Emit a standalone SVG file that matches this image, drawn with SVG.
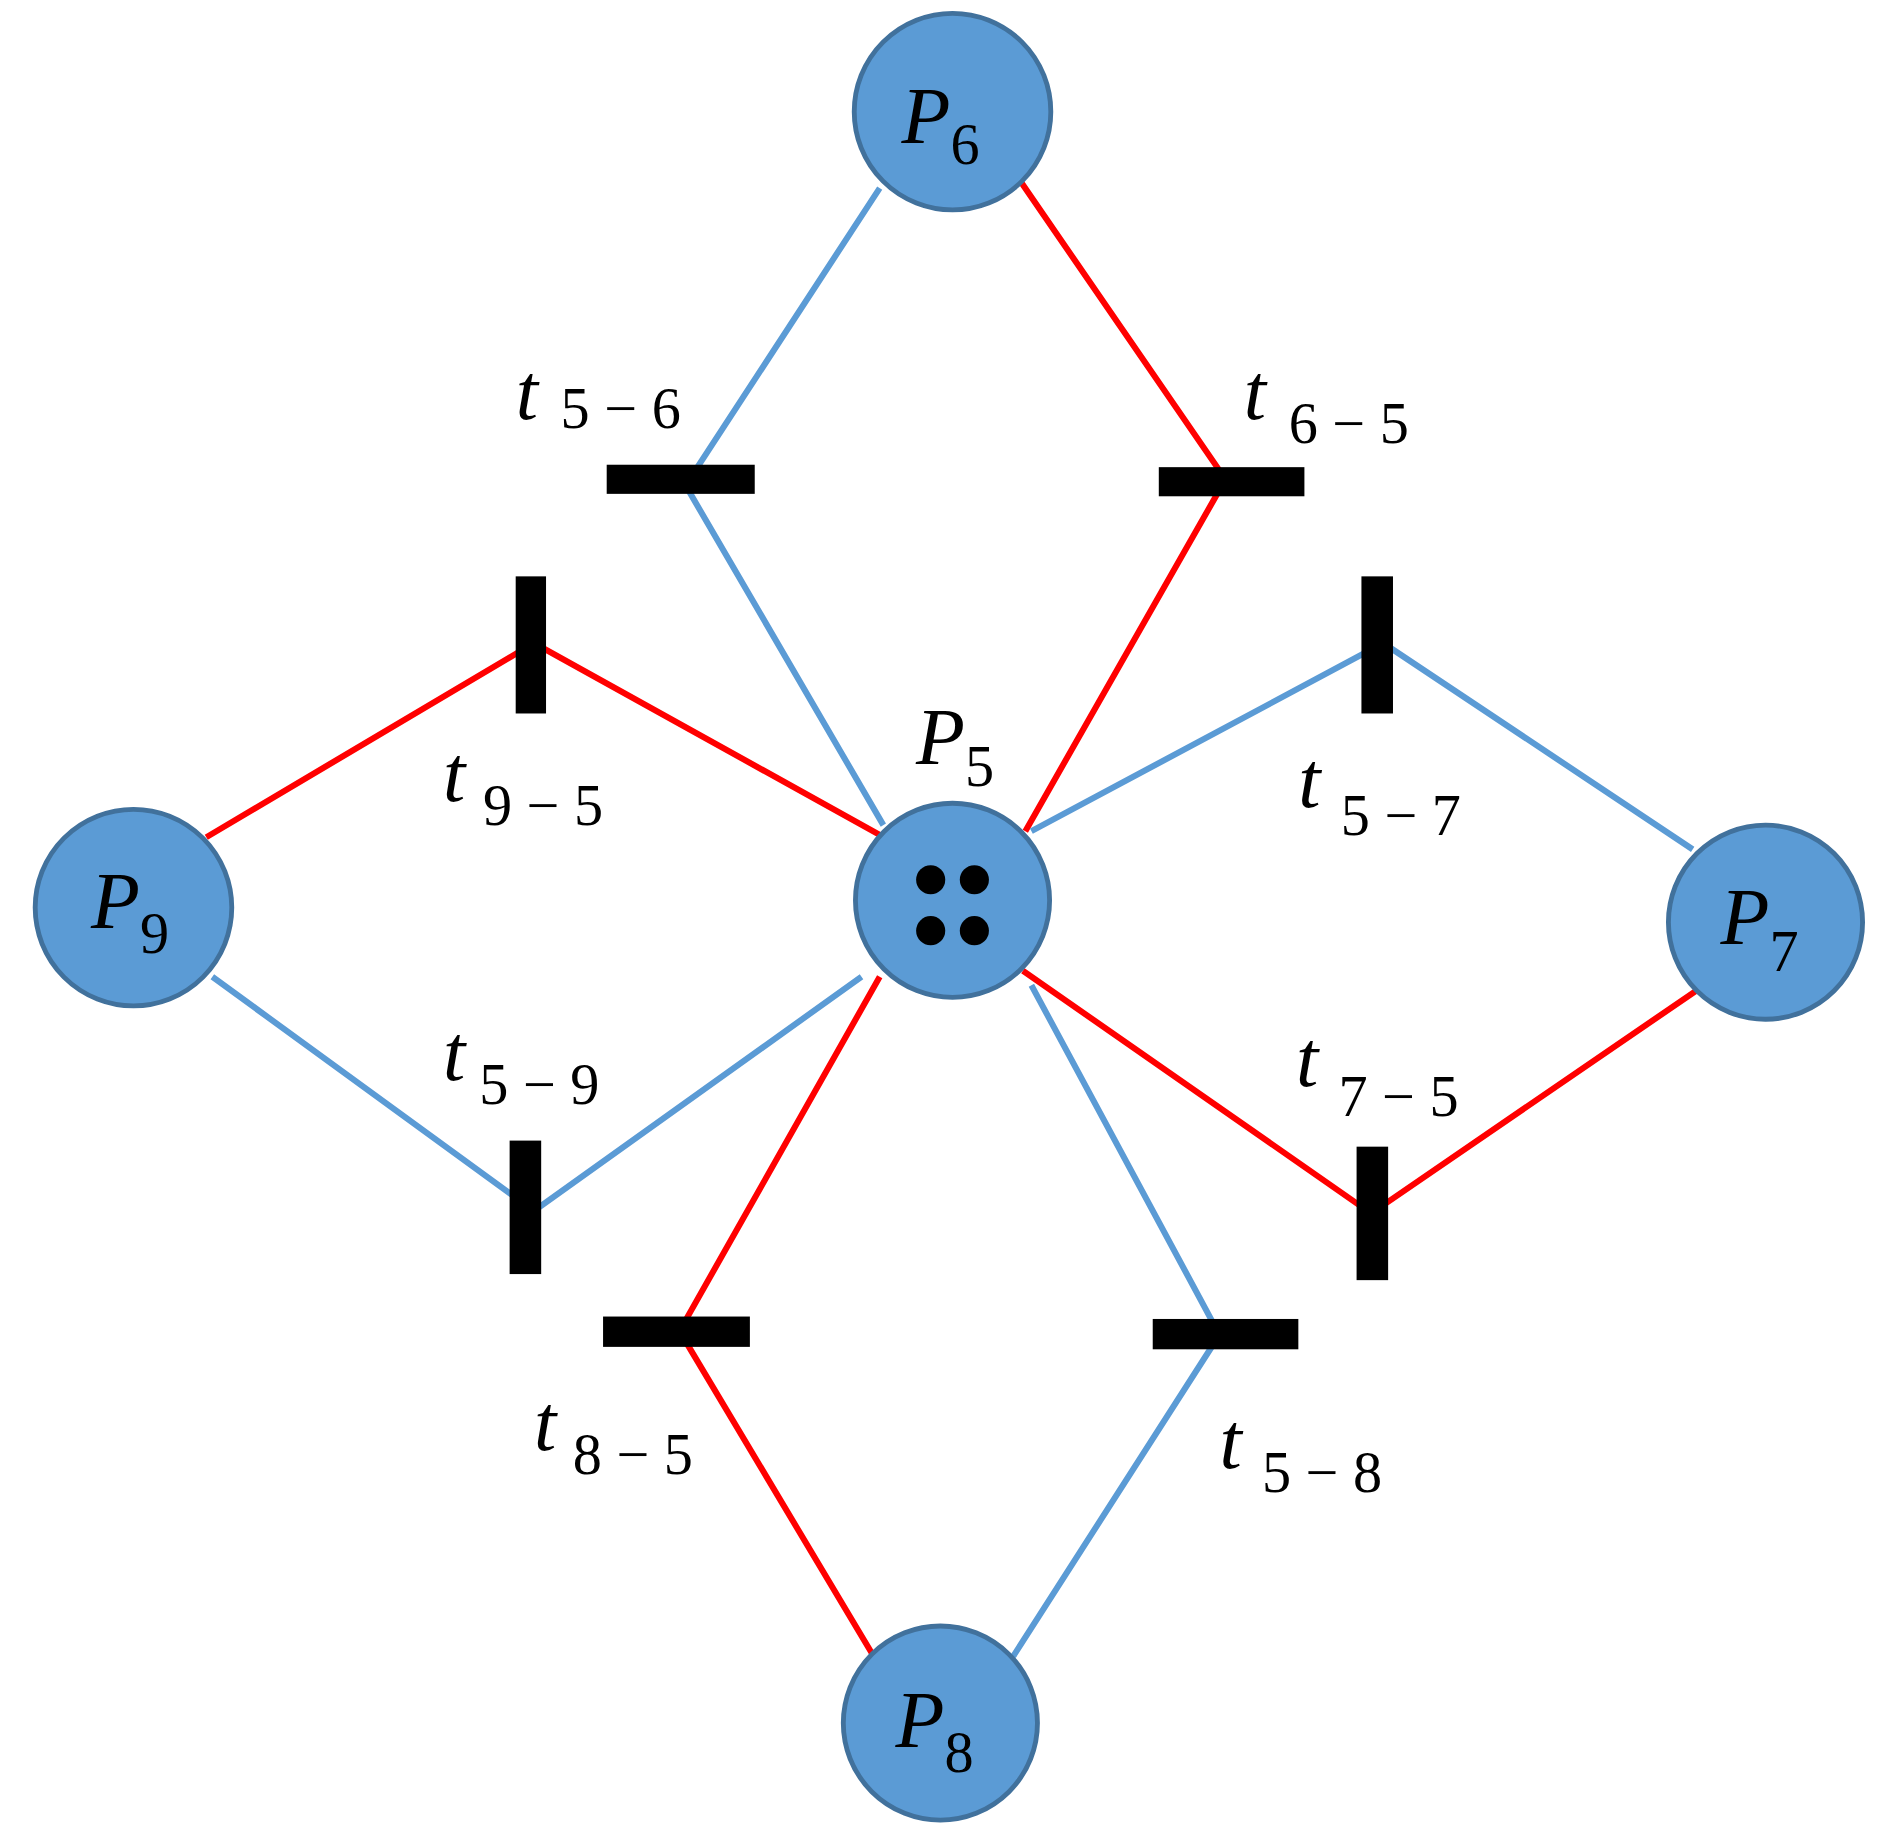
<svg xmlns="http://www.w3.org/2000/svg" width="1899" height="1844" viewBox="0 0 1899 1844">
<style>
.pl{fill:#5b9bd5;stroke:#41719c;stroke-width:4}
.tr{fill:#000}
.b{stroke:#5b9bd5;stroke-width:5;fill:none}
.r{stroke:#ff0000;stroke-width:5;fill:none}
.it{font-family:'Liberation Serif','Times New Roman',serif;font-style:italic;font-size:66px}
.sb{font-family:'Liberation Serif','Times New Roman',serif;font-style:normal;font-size:48px}
</style>
<rect width="1899" height="1844" fill="#fff"/>
<g transform="scale(1.2134)">
<g id="connectors">
<polyline class="b" points="725,155 565,400 728,680"/>
<polyline class="r" points="840,148 1010,395 845,685"/>
<polyline class="r" points="170,690 440,530 725,688"/>
<polyline class="b" points="175,805 440,998 710,805"/>
<polyline class="b" points="850,685 1140,530 1395,700"/>
<polyline class="r" points="843,800 1130,1000 1400,815"/>
<polyline class="r" points="725,805 560,1097 720,1365"/>
<polyline class="b" points="850,812 1005,1100 835,1365"/>
</g>
<g id="P5"><circle class="pl" cx="785" cy="742" r="80"/>
<circle cx="767" cy="725" r="12"/><circle cx="803" cy="725" r="12"/><circle cx="767" cy="767" r="12"/><circle cx="803" cy="767" r="12"/>
<text class="it" x="755" y="630">P<tspan class="sb" dy="18">5</tspan></text></g>
<g id="P6"><circle class="pl" cx="785" cy="92" r="81"/><text class="it" x="743" y="118">P<tspan class="sb" dy="17">6</tspan></text></g>
<g id="P9"><circle class="pl" cx="110" cy="748" r="81"/><text class="it" x="75" y="765">P<tspan class="sb" dy="20">9</tspan></text></g>
<g id="P7"><circle class="pl" cx="1455" cy="760" r="80"/><text class="it" x="1418" y="778">P<tspan class="sb" dy="22">7</tspan></text></g>
<g id="P8"><circle class="pl" cx="775" cy="1420" r="80"/><text class="it" x="738" y="1440">P<tspan class="sb" dy="20">8</tspan></text></g>
<g id="t5-6"><rect class="tr" x="500" y="383" width="122" height="24"/><text class="it" x="425" y="345">t<tspan class="sb" x="462" dy="8">5 − 6</tspan></text></g>
<g id="t6-5"><rect class="tr" x="955" y="385" width="120" height="24"/><text class="it" x="1025" y="345">t<tspan class="sb" x="1062" dy="20">6 − 5</tspan></text></g>
<g id="t9-5"><rect class="tr" x="425" y="475" width="25" height="113"/><text class="it" x="365" y="660">t<tspan class="sb" x="398" dy="20">9 − 5</tspan></text></g>
<g id="t5-7"><rect class="tr" x="1122" y="475" width="26" height="113"/><text class="it" x="1070" y="665">t<tspan class="sb" x="1105" dy="23">5 − 7</tspan></text></g>
<g id="t5-9"><rect class="tr" x="420" y="940" width="26" height="110"/><text class="it" x="365" y="890">t<tspan class="sb" x="395" dy="20">5 − 9</tspan></text></g>
<g id="t7-5"><rect class="tr" x="1118" y="945" width="26" height="110"/><text class="it" x="1068" y="895">t<tspan class="sb" x="1103" dy="25">7 − 5</tspan></text></g>
<g id="t8-5"><rect class="tr" x="497" y="1085" width="121" height="25"/><text class="it" x="440" y="1195">t<tspan class="sb" x="472" dy="20">8 − 5</tspan></text></g>
<g id="t5-8"><rect class="tr" x="950" y="1087" width="120" height="25"/><text class="it" x="1005" y="1210">t<tspan class="sb" x="1040" dy="20">5 − 8</tspan></text></g>
</g>
</svg>
